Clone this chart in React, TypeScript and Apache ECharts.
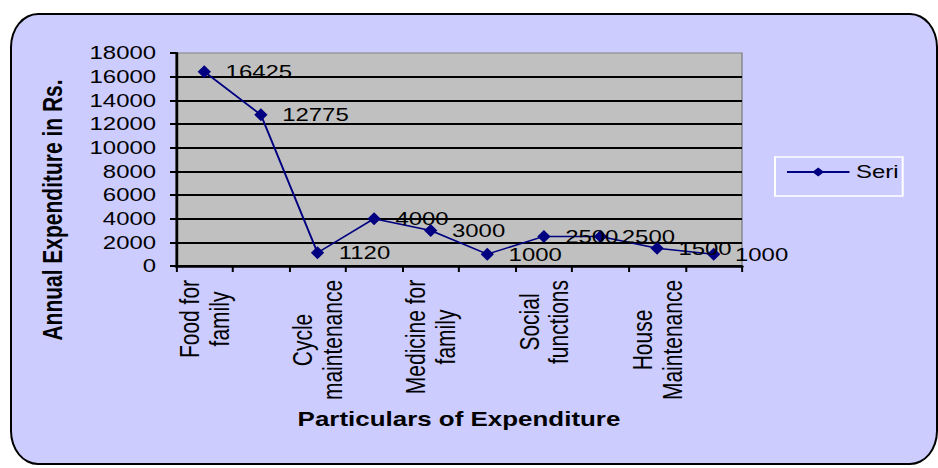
import React, { useEffect, useRef } from 'react';
import * as echarts from 'echarts';

const categories = [
  'Food for family',
  'Clothing for family',
  'Cycle maintenance',
  'Education of children',
  'Medicine for family',
  'Travelling',
  'Social functions',
  'Festivals',
  'House Maintenance',
  'Others',
];
const values = [16425, 12775, 1120, 4000, 3000, 1000, 2500, 2500, 1500, 1000];
const yMin = 0;
const yMax = 18000;
const yInterval = 2000;
const seriesName = 'Series1';
const xTitle = 'Particulars of Expenditure';
const yTitle = 'Annual Expenditure in Rs.';

const PAGE_W = 938;
const PAGE_H = 468;
const SX = 1.33;
const W = PAGE_W / SX;
const FONT = '"Liberation Sans", Arial, Helvetica, sans-serif';
const NAVY = '#000080';
const CAT_FONT = 21;

function splitLabel(v: string) {
  const i = v.lastIndexOf(' ');
  return i > 0 ? [v.slice(0, i), v.slice(i + 1)] : [v];
}

export default function App() {
  const ref = useRef<HTMLDivElement>(null);
  useEffect(() => {
    const ctx = document.createElement('canvas').getContext('2d')!;
    ctx.font = `${CAT_FONT}px ${FONT}`;
    const rich: Record<string, any> = {};
    categories.forEach((c, i) => {
      const w = Math.max(...splitLabel(c).map((l) => ctx.measureText(l).width));
      rich['c' + i] = {
        width: Math.ceil(w) + 1,
        align: 'center',
        fontFamily: FONT,
        fontSize: CAT_FONT,
        lineHeight: 22.5,
        color: '#000',
      };
    });

    const chart = echarts.init(ref.current!, null, { renderer: 'svg', width: W, height: PAGE_H });
    chart.setOption({
      animation: false,
      backgroundColor: 'transparent',
      textStyle: { fontFamily: FONT },
      grid: {
        show: true,
        left: 176 / SX,
        right: (PAGE_W - 742) / SX,
        top: 53,
        bottom: PAGE_H - 266,
        backgroundColor: '#c0c0c0',
        borderColor: '#808080',
        borderWidth: 1,
      },
      legend: {
        show: true,
        orient: 'vertical',
        left: 775 / SX,
        top: 157,
        data: [seriesName],
        itemWidth: 47,
        itemHeight: 11,
        borderColor: '#ffffff',
        borderWidth: 1.5,
        padding: [4, 1, 13, 8],
        textStyle: {
          fontFamily: FONT,
          fontSize: 18,
          color: '#000',
          width: 34,
          height: 22,
          lineHeight: 22,
          overflow: 'breakAll',
          lineOverflow: 'truncate',
        },
      },
      xAxis: {
        type: 'category',
        data: categories,
        boundaryGap: true,
        name: xTitle,
        nameLocation: 'middle',
        nameGap: 143,
        nameTextStyle: { fontFamily: FONT, fontSize: 19.5, fontWeight: 'bold', color: '#000' },
        axisLine: { show: true, lineStyle: { color: '#000', width: 2.5 } },
        axisTick: { show: true, interval: 0, alignWithLabel: false, length: 6, lineStyle: { color: '#000', width: 1.5 } },
        axisLabel: {
          interval: 1,
          rotate: 90,
          margin: 13,
          formatter: (value: string, index: number) =>
            splitLabel(value)
              .map((l) => `{c${index}|${l}}`)
              .join('\n'),
          rich,
        },
        splitLine: { show: false },
      },
      yAxis: {
        type: 'value',
        min: yMin,
        max: yMax,
        interval: yInterval,
        axisLine: { show: true, lineStyle: { color: '#000', width: 2 } },
        axisTick: { show: true, length: 4.5, lineStyle: { color: '#000', width: 2 } },
        axisLabel: {
          fontFamily: FONT,
          fontSize: 18,
          color: '#000',
          margin: 15,
          formatter: (v: number) => String(v),
        },
        splitLine: { show: true, showMaxLine: false, lineStyle: { color: '#000', width: 2 } },
      },
      graphic: [
        {
          type: 'text',
          x: 52.5 / SX,
          y: 210,
          rotation: Math.PI / 2,
          style: {
            text: yTitle,
            font: `bold 21px ${FONT}`,
            fill: '#000',
            textAlign: 'center',
            textVerticalAlign: 'middle',
          },
        },
      ],
      series: [
        {
          name: seriesName,
          type: 'line',
          data: values,
          symbol: 'diamond',
          symbolSize: [10, 13],
          lineStyle: { color: NAVY, width: 1.5 },
          itemStyle: { color: NAVY },
          label: {
            show: true,
            position: 'right',
            distance: 11,
            fontFamily: FONT,
            fontSize: 18,
            color: '#000',
          },
        },
      ],
    });
    return () => chart.dispose();
  }, []);
  return (
    <div style={{ position: 'fixed', left: 0, top: 0, width: PAGE_W, height: PAGE_H, background: '#fff', overflow: 'hidden' }}>
      <div
        style={{
          position: 'absolute',
          left: 10,
          top: 13,
          width: 928,
          height: 452,
          boxSizing: 'border-box',
          border: '2px solid #000',
          borderRadius: '28px / 34px',
          background: '#ccccff',
        }}
      />
      <div
        ref={ref}
        style={{
          position: 'absolute',
          left: 0,
          top: 0,
          width: W,
          height: PAGE_H,
          transform: `scaleX(${SX})`,
          transformOrigin: '0 0',
        }}
      />
    </div>
  );
}
